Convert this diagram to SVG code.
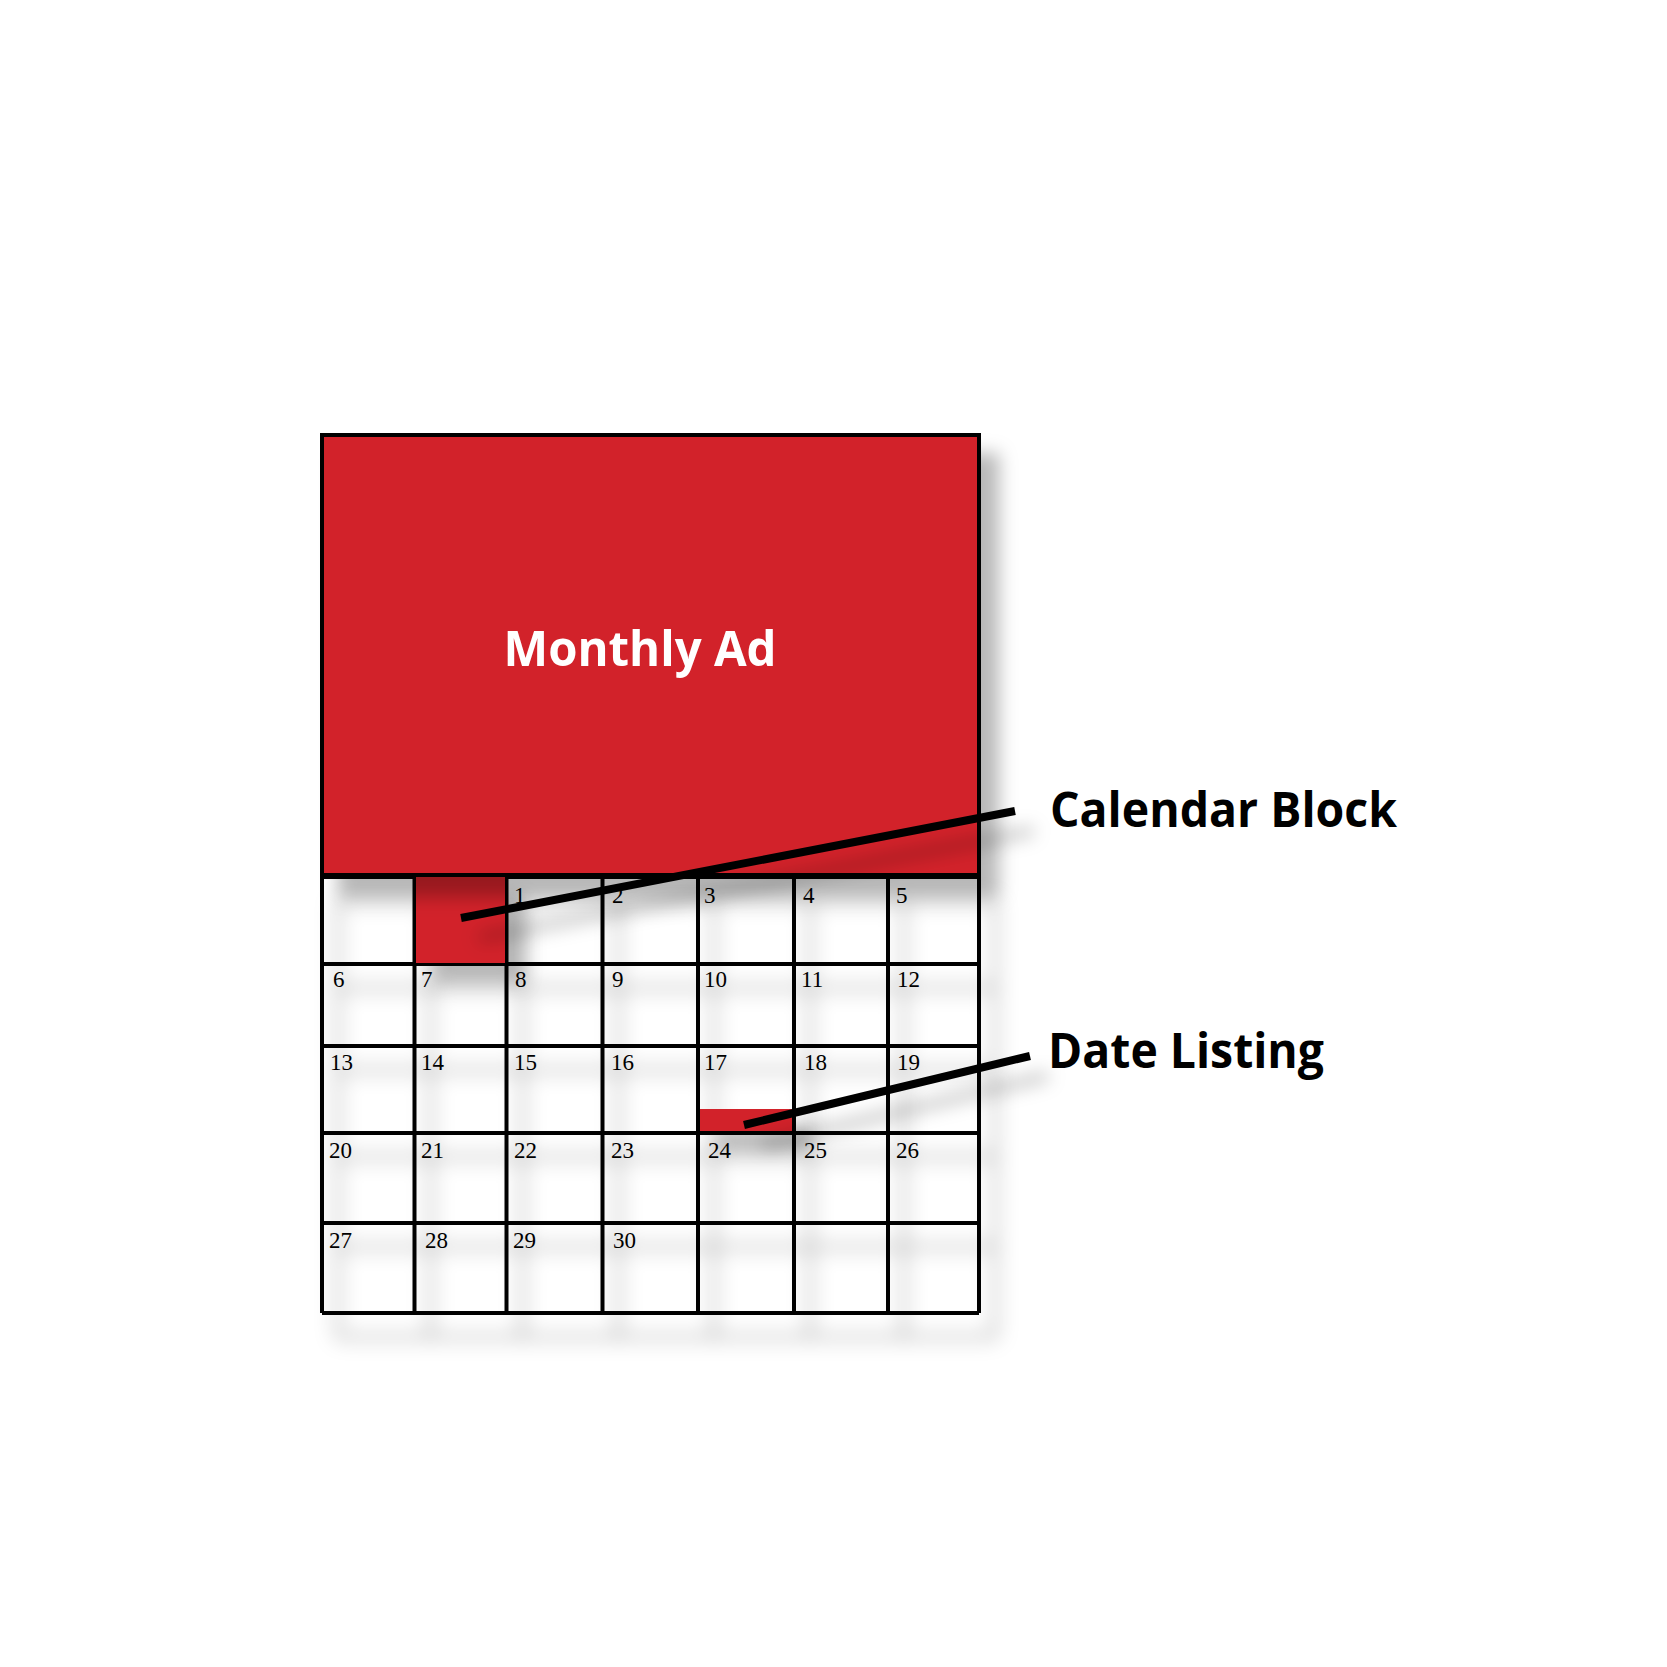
<svg xmlns="http://www.w3.org/2000/svg" width="1667" height="1667" viewBox="0 0 1667 1667">
  <defs>
    <filter id="shadow" filterUnits="userSpaceOnUse" x="0" y="0" width="1667" height="1667">
      <feGaussianBlur in="SourceAlpha" stdDeviation="9"/>
      <feOffset dx="18" dy="20" result="b"/>
      <feFlood flood-color="#000" flood-opacity="0.28"/>
      <feComposite in2="b" operator="in" result="s"/>
      <feMerge><feMergeNode in="s"/><feMergeNode in="SourceGraphic"/></feMerge>
    </filter>
    <filter id="gshadow" filterUnits="userSpaceOnUse" x="0" y="0" width="1667" height="1667">
      <feGaussianBlur in="SourceAlpha" stdDeviation="10"/>
      <feOffset dx="16" dy="24" result="b"/>
      <feFlood flood-color="#000" flood-opacity="0.35"/>
      <feComposite in2="b" operator="in" result="s"/>
      <feMerge><feMergeNode in="s"/><feMergeNode in="SourceGraphic"/></feMerge>
    </filter>
  </defs>
  <style>
    .red { fill: #D2232A; }
    .grid { fill: none; stroke: #000; stroke-width: 4; }
    .num { font-family: "Liberation Serif", serif; font-size: 23px; fill: #000; }
    .lbl { font-family: "Open Sans", "Noto Sans", sans-serif; font-weight: bold; font-size: 48px; fill: #000; }
    .conn { stroke: #000; stroke-width: 8; fill: none; }
  </style>
  <rect width="1667" height="1667" fill="#fff"/>

  <g id="calendar-grid">
    <rect x="322" y="877" width="657" height="436" fill="#fff"/>
    <g filter="url(#gshadow)">
      <path class="grid" d="M322,877 H979 M322,964 H979 M322,1046 H979 M322,1133 H979 M322,1223 H979 M322,1313 H979 M322,877 V1313 M414.5,877 V1313 M506.5,877 V1313 M602.5,877 V1313 M698,877 V1313 M794,877 V1313 M888,877 V1313 M979,877 V1313"/>
    </g>
    <g class="num">
      <text x="514" y="903">1</text><text x="612" y="903">2</text><text x="704" y="903">3</text><text x="803" y="903">4</text><text x="896" y="903">5</text>
      <text x="333" y="987">6</text><text x="421" y="987">7</text><text x="515" y="987">8</text><text x="612" y="987">9</text><text x="704" y="987">10</text><text x="801" y="987">11</text><text x="897" y="987">12</text>
      <text x="330" y="1070">13</text><text x="421" y="1070">14</text><text x="514" y="1070">15</text><text x="611" y="1070">16</text><text x="704" y="1070">17</text><text x="804" y="1070">18</text><text x="897" y="1070">19</text>
      <text x="329" y="1158">20</text><text x="421" y="1158">21</text><text x="514" y="1158">22</text><text x="611" y="1158">23</text><text x="708" y="1158">24</text><text x="804" y="1158">25</text><text x="896" y="1158">26</text>
      <text x="329" y="1248">27</text><text x="425" y="1248">28</text><text x="513" y="1248">29</text><text x="613" y="1248">30</text>
    </g>
  </g>

  <g id="calendar-block" filter="url(#shadow)">
    <rect class="red" x="416" y="877" width="89" height="86"/>
  </g>

  <g id="date-listing-bar" filter="url(#shadow)">
    <rect class="red" x="700" y="1109" width="92" height="22"/>
  </g>

  <g id="monthly-ad">
    <rect class="red" x="322" y="435" width="657" height="440" stroke="#000" stroke-width="4" filter="url(#shadow)"/>
    <text x="640" y="666" text-anchor="middle" font-family="Open Sans, Noto Sans, sans-serif" font-weight="bold" font-size="49" fill="#fff" textLength="273" lengthAdjust="spacingAndGlyphs">Monthly Ad</text>
  </g>

  <g id="connectors" filter="url(#shadow)">
    <line class="conn" x1="461" y1="918" x2="1015" y2="811"/>
    <line class="conn" x1="744" y1="1125" x2="1030" y2="1056"/>
  </g>

  <g id="label-calendar-block">
    <text class="lbl" x="1050" y="827" textLength="347" lengthAdjust="spacingAndGlyphs">Calendar Block</text>
  </g>
  <g id="label-date-listing">
    <text class="lbl" x="1048" y="1068" textLength="276" lengthAdjust="spacingAndGlyphs">Date Listing</text>
  </g>
</svg>
